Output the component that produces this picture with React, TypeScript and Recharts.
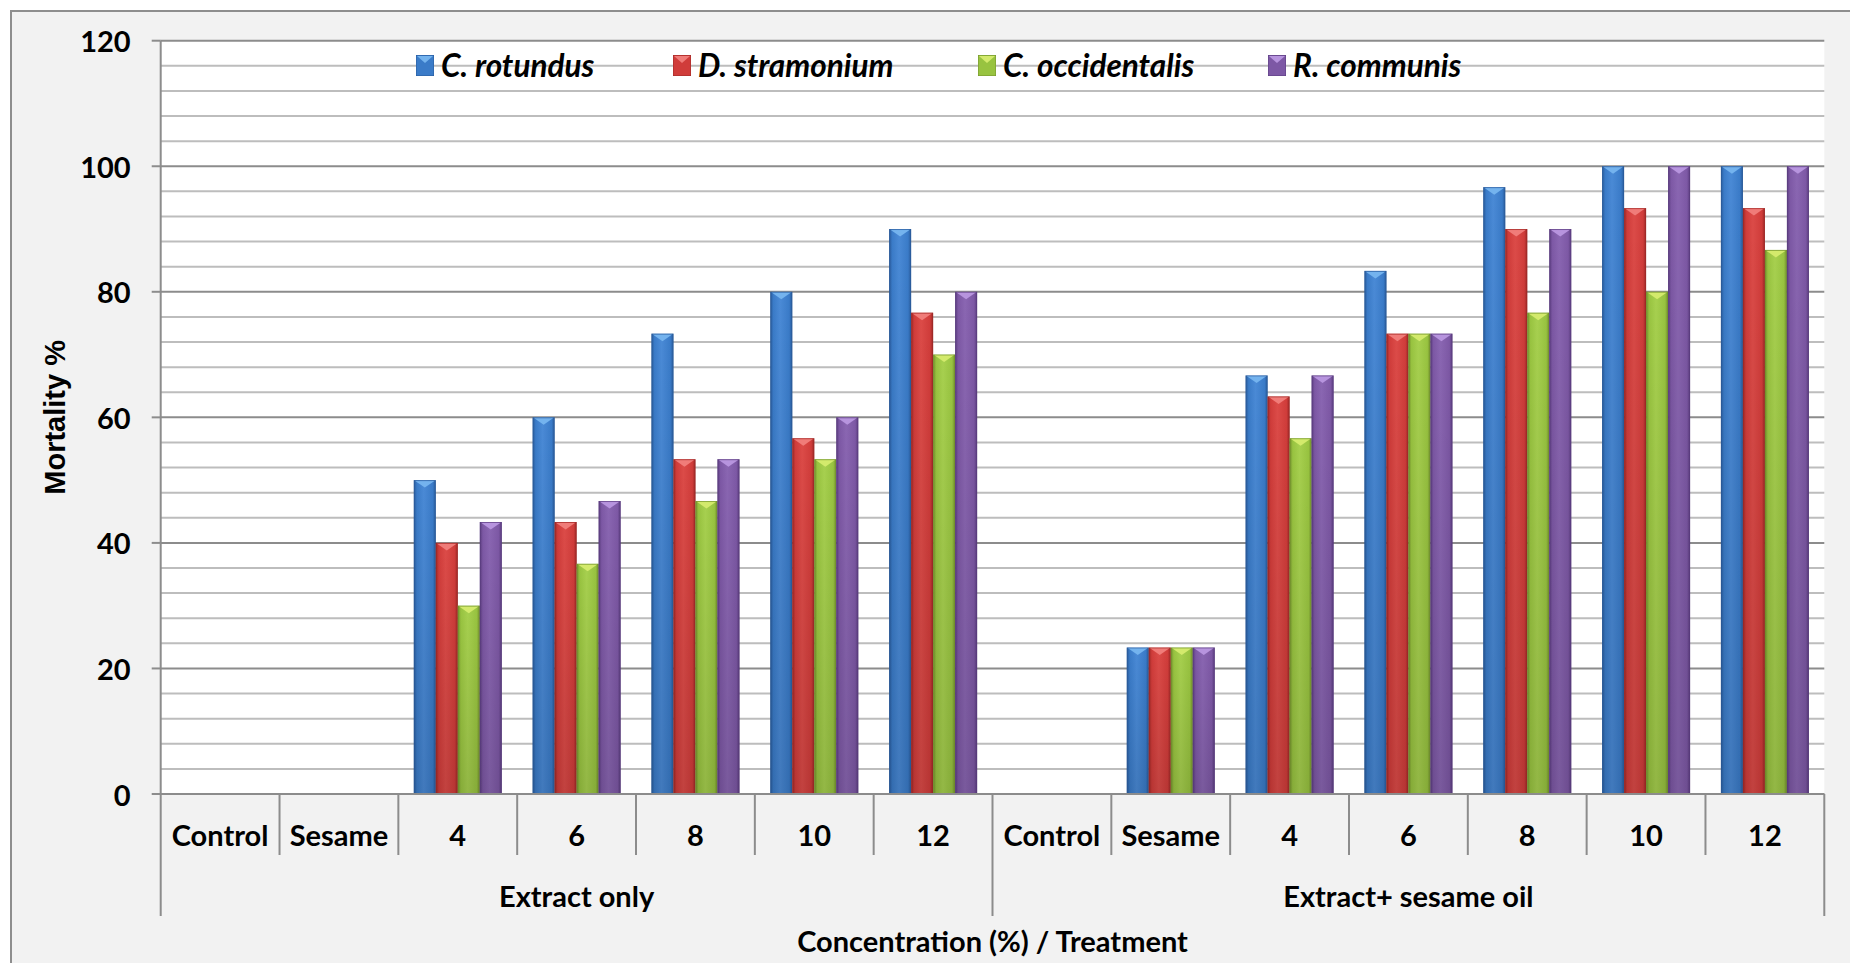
import React from 'react';
import { BarChart, Bar, XAxis, YAxis, CartesianGrid, Legend } from 'recharts';

// Category axis: concentration (%) and the treatment each belongs to
const concentrations = ['Control', 'Sesame', '4', '6', '8', '10', '12', 'Control', 'Sesame', '4', '6', '8', '10', '12'];
const treatments = [
  'Extract only', 'Extract only', 'Extract only', 'Extract only', 'Extract only', 'Extract only', 'Extract only',
  'Extract+ sesame oil', 'Extract+ sesame oil', 'Extract+ sesame oil', 'Extract+ sesame oil', 'Extract+ sesame oil', 'Extract+ sesame oil', 'Extract+ sesame oil',
];

// Mortality % per plant extract
const cRotundus = [0, 0, 50, 60, 73.33, 80, 90, 0, 23.33, 66.67, 83.33, 96.67, 100, 100];
const dStramonium = [0, 0, 40, 43.33, 53.33, 56.67, 76.67, 0, 23.33, 63.33, 73.33, 90, 93.33, 93.33];
const cOccidentalis = [0, 0, 30, 36.67, 46.67, 53.33, 70, 0, 23.33, 56.67, 73.33, 76.67, 80, 86.67];
const rCommunis = [0, 0, 43.33, 46.67, 53.33, 60, 80, 0, 23.33, 66.67, 73.33, 90, 100, 100];

const seriesNames = ['C. rotundus', 'D. stramonium', 'C. occidentalis', 'R. communis'];
const seriesKeys = ['cRotundus', 'dStramonium', 'cOccidentalis', 'rCommunis'];

// Axis ticks and the finer grid between them
const yTicks = [0, 20, 40, 60, 80, 100, 120];
const minorGrid = [4, 8, 12, 16, 24, 28, 32, 36, 44, 48, 52, 56, 64, 68, 72, 76, 84, 88, 92, 96, 104, 108, 112, 116];

const data = concentrations.map((c, i) => ({
  concentration: c,
  treatment: treatments[i],
  cRotundus: cRotundus[i],
  dStramonium: dStramonium[i],
  cOccidentalis: cOccidentalis[i],
  rCommunis: rCommunis[i],
}));

const PALETTE: Record<string, { body: string; light: string; edge: string; top: string }> = {
  cRotundus: { body: '#3a7bc8', light: '#4a8ad6', edge: '#295a99', top: '#74b3ee' },
  dStramonium: { body: '#d03c3a', light: '#dc4b48', edge: '#9c2826', top: '#f07c79' },
  cOccidentalis: { body: '#98c340', light: '#a7d04f', edge: '#728f2d', top: '#d3ea6c' },
  rCommunis: { body: '#7d58a5', light: '#8a66b2', edge: '#5a3c7e', top: '#b794de' },
};

const FONT = "Lato, 'Open Sans', sans-serif";
const W = 1850;
const H = 963;
const MARGIN = { top: 40.7, right: 25.7, left: 80.7, bottom: 0 };
const Y_AXIS_W = 80;
const X_AXIS_H = 169;
const BAND = (W - MARGIN.left - Y_AXIS_W - MARGIN.right) / concentrations.length;

function bevelShape(key: string) {
  return (props: any) => {
    const { x, y, width, height } = props;
    if (!(height > 0) || !(width > 0)) return <g />;
    const c = PALETTE[key];
    const tri = Math.min(width * 0.34, height);
    return (
      <g>
        <rect x={x} y={y} width={width} height={height} fill={`url(#body-${key})`} />
        <rect x={x} y={y} width={width} height={height} fill="url(#shade)" />
        <polygon
          points={`${x + 1},${y + 0.5} ${x + width - 1},${y + 0.5} ${x + width / 2},${y + tri}`}
          fill={c.top}
        />
        <rect x={x + 0.5} y={y + 0.5} width={width - 1} height={height - 1} fill="none" stroke={c.edge} strokeOpacity={0.6} strokeWidth={1} />
      </g>
    );
  };
}

function groupBounds(i: number) {
  let first = i;
  while (first > 0 && treatments[first - 1] === treatments[i]) first--;
  let last = i;
  while (last < treatments.length - 1 && treatments[last + 1] === treatments[i]) last++;
  return { first, last };
}

const XTick = (props: any) => {
  const { x, y, payload } = props;
  const i = payload.index;
  const { first, last } = groupBounds(i);
  const left = x - BAND / 2;
  const right = x + BAND / 2;
  const isGroupStart = i === first;
  const mid = (first + last) / 2;
  return (
    <g>
      <line x1={left} y1={y} x2={left} y2={y + (isGroupStart ? 122 : 61)} stroke="#8c8c8c" strokeWidth={2} />
      {i === concentrations.length - 1 && (
        <line x1={right} y1={y} x2={right} y2={y + 122} stroke="#8c8c8c" strokeWidth={2} />
      )}
      <text x={x} y={y + 40} textAnchor="middle" dominantBaseline="central" fontFamily={FONT} fontWeight={700} fontSize={29} fill="#000">
        {payload.value}
      </text>
      {i === Math.floor(mid) && (
        <text x={x + (mid - i) * BAND} y={y + 101} textAnchor="middle" dominantBaseline="central" fontFamily={FONT} fontWeight={700} fontSize={29} fill="#000">
          {treatments[i]}
        </text>
      )}
    </g>
  );
};

const YTick = (props: any) => {
  const { x, y, payload } = props;
  return (
    <text x={x} y={y} textAnchor="end" dominantBaseline="central" fontFamily={FONT} fontWeight={700} fontSize={29} fill="#000">
      {payload.value}
    </text>
  );
};

const XTitle = (props: any) => {
  const { x, y, width } = props.viewBox;
  return (
    <text x={x + width / 2} y={y + 146} textAnchor="middle" dominantBaseline="central" fontFamily={FONT} fontWeight={700} fontSize={29} fill="#000">
      Concentration (%) / Treatment
    </text>
  );
};

const YTitle = (props: any) => {
  const { x, y, height } = props.viewBox;
  const cx = x - 26;
  const cy = y + height / 2;
  return (
    <text x={cx} y={cy} transform={`rotate(-90 ${cx} ${cy})`} textAnchor="middle" dominantBaseline="central" fontFamily="'Liberation Sans', Arial, sans-serif" fontWeight={700} fontSize={29} fill="#000">
      Mortality %
    </text>
  );
};

const LegendMarker = ({ k }: { k: string }) => {
  const c = PALETTE[k];
  return (
    <svg width={18} height={21} style={{ display: 'block' }}>
      <rect x={0} y={0} width={18} height={21} fill={c.body} stroke={c.edge} strokeWidth={1} />
      <polygon points="1,1 17,1 9,8" fill={c.top} />
    </svg>
  );
};

const itemWidths = [257, 305, 290, 200];

const LegendContent = (props: any) => {
  const payload = [...(props.payload || [])].sort(
    (a: any, b: any) => seriesKeys.indexOf(a.dataKey) - seriesKeys.indexOf(b.dataKey),
  );
  return (
    <div style={{ display: 'flex', alignItems: 'center' }}>
      {payload.map((entry: any, i: number) => (
        <div key={entry.value} style={{ display: 'flex', alignItems: 'center', width: itemWidths[i] }}>
          <LegendMarker k={entry.dataKey} />
          <span style={{ marginLeft: 7, fontFamily: FONT, fontWeight: 700, fontStyle: 'italic', fontSize: 31.5, color: '#000', whiteSpace: 'nowrap', lineHeight: '36px' }}>
            {entry.value}
          </span>
        </div>
      ))}
    </div>
  );
};

export default function App() {
  return (
    <div style={{ position: 'absolute', left: 0, top: 0, width: W, height: H, overflow: 'hidden', background: '#fff' }}>
      <div style={{ position: 'absolute', left: 10, top: 10, width: W + 20, height: H + 20, background: '#f2f2f2', border: '2px solid #8e8e8e' }} />
      <div style={{ position: 'absolute', left: 0, top: 0 }}>
        <BarChart width={W} height={H} data={data} margin={MARGIN} barCategoryGap="13%" barGap={0}>
          <defs>
            {seriesKeys.map((k) => (
              <linearGradient key={k} id={`body-${k}`} x1="0" y1="0" x2="1" y2="0">
                <stop offset="0%" stopColor={PALETTE[k].edge} />
                <stop offset="14%" stopColor={PALETTE[k].body} />
                <stop offset="45%" stopColor={PALETTE[k].light} />
                <stop offset="86%" stopColor={PALETTE[k].body} />
                <stop offset="100%" stopColor={PALETTE[k].edge} />
              </linearGradient>
            ))}
            <linearGradient id="shade" x1="0" y1="0" x2="0" y2="1">
              <stop offset="0%" stopColor="#000" stopOpacity={0} />
              <stop offset="100%" stopColor="#000" stopOpacity={0.12} />
            </linearGradient>
          </defs>
          <CartesianGrid horizontalValues={minorGrid} vertical={false} stroke="#bdbdbd" strokeWidth={2} fill="#ffffff" fillOpacity={1} />
          <CartesianGrid horizontalValues={yTicks} vertical={false} stroke="#8c8c8c" strokeWidth={2} />
          <XAxis
            dataKey="concentration"
            interval={0}
            height={X_AXIS_H}
            tickLine={false}
            tickSize={0}
            tickMargin={0}
            axisLine={{ stroke: '#8c8c8c', strokeWidth: 2 }}
            tick={<XTick />}
            label={{ content: <XTitle /> }}
          />
          <YAxis
            domain={[0, 120]}
            ticks={yTicks}
            interval={0}
            width={Y_AXIS_W}
            tickSize={9}
            tickMargin={21}
            tickLine={{ stroke: '#8c8c8c', strokeWidth: 2 }}
            axisLine={{ stroke: '#8c8c8c', strokeWidth: 2 }}
            tick={<YTick />}
            label={{ content: <YTitle /> }}
          />
          <Legend
            layout="vertical"
            align="center"
            verticalAlign="middle"
            content={<LegendContent />}
            wrapperStyle={{ top: 47, left: 416, width: 'auto' }}
          />
          {seriesKeys.map((k, i) => (
            <Bar key={k} dataKey={k} name={seriesNames[i]} fill={PALETTE[k].body} shape={bevelShape(k)} isAnimationActive={false} />
          ))}
        </BarChart>
      </div>
    </div>
  );
}
